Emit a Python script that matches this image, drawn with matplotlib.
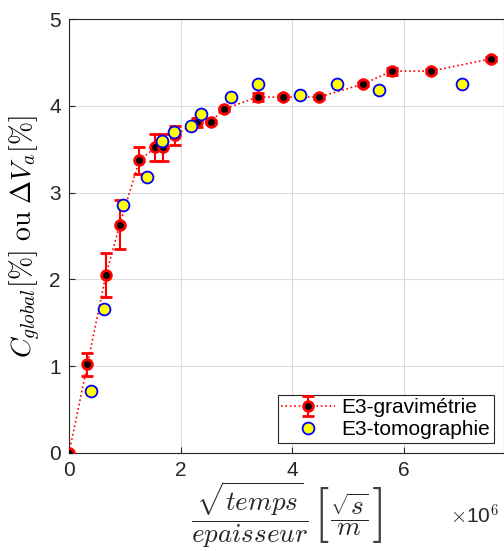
import matplotlib
matplotlib.use("Agg")
import matplotlib.pyplot as plt
import numpy as np

plt.rcParams['font.family'] = ['Liberation Sans', 'DejaVu Sans']
plt.rcParams['mathtext.fontset'] = 'cm'

# E3-gravimetrie (x in units of 1e6)
grav_x = [0, 0.33, 0.66, 0.91, 1.26, 1.55, 1.68, 1.90, 2.29, 2.54, 2.77,
          3.38, 3.83, 4.48, 5.27, 5.79, 6.49, 7.56]
grav_y = [0, 1.02, 2.05, 2.63, 3.37, 3.52, 3.52, 3.66, 3.81, 3.81, 3.96,
          4.10, 4.10, 4.10, 4.25, 4.40, 4.40, 4.54]
grav_err = [0, 0.13, 0.25, 0.28, 0.16, 0.16, 0.16, 0.11, 0.05, 0.02, 0.02,
            0.05, 0.02, 0.02, 0.02, 0.04, 0.02, 0.02]

# E3-tomographie
tomo_x = [0.39, 0.63, 0.97, 1.40, 1.67, 1.89, 2.19, 2.37, 2.91, 3.38,
          4.14, 4.80, 5.56, 7.04]
tomo_y = [0.71, 1.66, 2.86, 3.18, 3.60, 3.70, 3.77, 3.91, 4.10, 4.25,
          4.13, 4.25, 4.18, 4.25]

fig = plt.figure(figsize=(5.04, 5.51), dpi=100)
ax = fig.add_axes([0.137, 0.178, 0.863, 0.7875])

gx = np.array(grav_x) * 1e6
tx = np.array(tomo_x) * 1e6

h_grav = ax.errorbar(gx, grav_y, yerr=grav_err, fmt='o', linestyle=':', color='red',
                     ecolor='red', elinewidth=1.5, capsize=4, capthick=1.5,
                     markerfacecolor='black', markeredgecolor='red', markeredgewidth=2,
                     markersize=7, linewidth=1.2, label='E3-gravimétrie', zorder=3)
h_tomo, = ax.plot(tx, tomo_y, 'o', markerfacecolor='yellow', markeredgecolor='blue',
                  markeredgewidth=1.3, markersize=8.5, label='E3-tomographie', zorder=4)

ax.set_xlim(0, 7.8e6)
ax.set_ylim(0, 5)
ax.set_xticks([0, 2e6, 4e6, 6e6])
ax.set_yticks([0, 1, 2, 3, 4, 5])
ax.ticklabel_format(axis='x', style='sci', scilimits=(6, 6), useMathText=True)
ax.xaxis.get_offset_text().set_visible(False)
fig.text(0.942, 0.064, r'$\times$10$^6$', fontsize=15, ha='center', va='center',
         color='#262626')

ax.tick_params(labelsize=15, direction='in', length=4, pad=6, colors='#262626')
ax.grid(True, color='#dcdcdc', linewidth=0.8)
ax.set_axisbelow(True)
for s in ax.spines.values():
    s.set_color('#262626')

# x label built from pieces so both fractions keep display size
lab_y = 0.066
fig.text(0.496, lab_y, r'$\dfrac{\sqrt{temps}}{epaisseur}$', fontsize=19.5,
         ha='center', va='center', color='#262626')
fig.text(0.692, lab_y, r'$\dfrac{\sqrt{s}}{m}$', fontsize=19.5,
         ha='center', va='center', color='#262626')
fig.text(0.638, lab_y, r'$[$', fontsize=40, ha='center', va='center',
         color='#404040')
fig.text(0.746, lab_y, r'$]$', fontsize=40, ha='center', va='center',
         color='#404040')
ax.set_ylabel(r'$C_{global}[\%]\ \mathrm{ou}\ \Delta V_a[\%]$', fontsize=20,
              labelpad=4)

leg = ax.legend([h_grav, h_tomo], ['E3-gravimétrie', 'E3-tomographie'],
                loc='lower right', fontsize=15, fancybox=False,
                framealpha=1, edgecolor='#262626', borderpad=0.15,
                handlelength=2.6, handletextpad=0.3, labelspacing=0.15,
                borderaxespad=0.5)
leg.get_frame().set_linewidth(0.8)

fig.savefig('out.png', dpi=100)
